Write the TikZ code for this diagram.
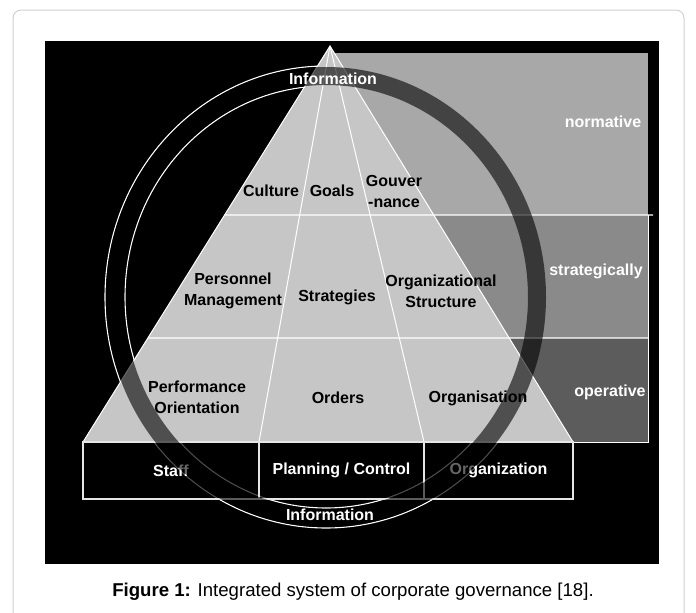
\documentclass[tikz,border=0pt]{standalone}
\usepackage{fontspec}
\setmainfont{Liberation Sans}
\usetikzlibrary{calc}

\definecolor{pyrgray}{HTML}{C6C6C6}
\definecolor{normgray}{HTML}{A8A8A8}
\definecolor{stratgray}{HTML}{8A8A8A}
\definecolor{opergray}{HTML}{5C5C5C}
\definecolor{framegray}{HTML}{D0D0D0}

\tikzset{
  lbl/.style={font=\bfseries\fontsize{16}{21}\selectfont, align=center, inner sep=0pt},
  wlbl/.style={lbl, text=white},
  sysbox/.style={draw=gray!20, line width=1.2pt, fill=black, fill opacity=.7, text opacity=1,
    text=white, font=\bfseries\fontsize{16}{21}\selectfont, minimum height=57pt, inner sep=0pt},
}

\begin{document}
\begin{tikzpicture}[x=1pt, y=-1pt]
  \useasboundingbox (0,0) rectangle (696,613);
  \clip (0,0) rectangle (696,613);
  \fill[white] (0,0) rectangle (696,613);
  \draw[framegray, line width=1pt, rounded corners=8pt] (13,10) rectangle (684,660);
  \fill[black] (45,41) rectangle (659,564);

  % white rims of the information ring
  \draw[white, line width=1.1pt] (326,297) ellipse [x radius=221, y radius=231];
  \draw[white, line width=1.1pt] (326,297) ellipse [x radius=201, y radius=211];

  % management levels
  \fill[normgray] (330,53) rectangle (648,215);
  \fill[stratgray] (330,215) rectangle (648,338);
  \fill[opergray] (330,338) rectangle (648,442);
  \draw[white, line width=1pt] (648,215) -- (648,442) -- (573,442);

  % pyramid
  \coordinate (apex) at (330,46);
  \coordinate (bl) at (83,442);
  \coordinate (br) at (573,442);
  \coordinate (ml) at (259,442);
  \coordinate (mr) at (424,442);
  \coordinate (nl) at ($(apex)!.4268!(bl)$);
  \coordinate (sl) at ($(apex)!.7374!(bl)$);
  \coordinate (nr) at (653,215);
  \coordinate (sr) at (648,338);

  \fill[pyrgray] (apex) -- (bl) -- (br) -- cycle;
  \draw[white, line width=1pt] (apex) -- (bl) -- (br) -- cycle;
  \draw[white, line width=1pt] (apex) -- (ml) (apex) -- (mr);
  \draw[white, line width=1.2pt] (nl) -- (nr) (sl) -- (sr);

  \node[sysbox, minimum width=176pt] (staff) at (171,470.5) {Staff};
  \node[sysbox, minimum width=165pt] (planning) at (341.5,470.5) {Planning / Control};
  \node[sysbox, minimum width=149pt] (organization) at (498.5,470.5) {Organization};

  % the ring itself
  \draw[black, draw opacity=.6, line width=18pt] (326,297) ellipse [x radius=211, y radius=221];

  \node[lbl] (culture) at (271,191) {Culture};
  \node[lbl] (goals) at (332,191) {Goals};
  \node[lbl] (gouvernance) at (394,191) {Gouver\\-nance};
  \node[lbl] (personnel) at (233,291) {Personnel\\Management};
  \node[lbl] (strategies) at (337,297) {Strategies};
  \node[lbl] (orgstructure) at (441,291) {Organizational\\Structure};
  \node[lbl] (performance) at (197,397) {Performance\\Orientation};
  \node[lbl] (orders) at (338,398) {Orders};
  \node[lbl] (organisation) at (478,398) {Organisation};

  \node[wlbl] (infotop) at (333,79) {Information};
  \node[wlbl] (infobottom) at (330,515) {Information};
  \node[wlbl] (normative) at (603,122) {normative};
  \node[wlbl] (strategically) at (596,271) {strategically};
  \node[wlbl] (operative) at (610,392) {operative};

  \node[font=\fontsize{18.6}{22}\selectfont] (caption) at (353,592)
    {\textbf{Figure 1:} Integrated system of corporate governance [18].};
\end{tikzpicture}
\end{document}
